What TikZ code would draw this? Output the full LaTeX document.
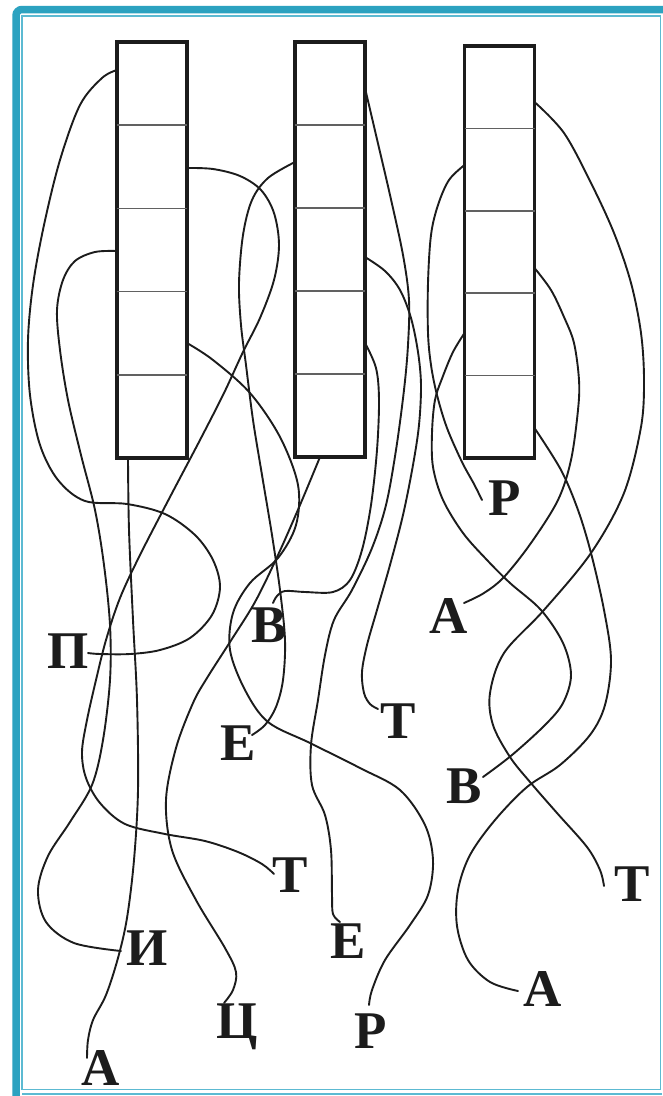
\documentclass[tikz,border=0pt]{standalone}
\usepackage{fontspec}
\setmainfont{Liberation Serif}
\usetikzlibrary{calc}
\definecolor{tealA}{RGB}{44,162,192}
\definecolor{tealB}{RGB}{92,186,210}
\definecolor{ink}{RGB}{28,28,28}
\begin{document}
\begin{tikzpicture}[x=1pt,y=-1pt,
  wire/.style={draw=ink,line width=1.9pt,line cap=round,line join=round},
  box/.style={draw=ink,line width=3.3pt,fill=white,inner sep=0pt,outer sep=0pt},
  cellline/.style={draw=black!62,line width=1.5pt},
  lbl/.style={font=\fontsize{53}{53}\selectfont\bfseries,inner sep=0pt,anchor=base,text=ink},
  sm/.style={smooth,tension=0.55}]
\useasboundingbox (0,0) rectangle (662,1096);
\fill[white] (0,0) rectangle (662,1096);
% frame
\draw[tealA,line width=7.5pt,rounded corners=6pt] (16,1110) -- (16,9.5) -- (680,9.5);
\draw[tealB,line width=1.2pt] (22,1089.5) -- (22,16) -- (660.5,16) -- (660.5,1089.5) -- cycle;
\draw[tealB,line width=1.2pt] (22,1094) -- (662,1094);

% boxes
\node[box,minimum width=70pt,minimum height=416pt] (b1) at (152,250) {};
\node[box,minimum width=70pt,minimum height=415pt] (b2) at (330,249.5) {};
\node[box,minimum width=70pt,minimum height=412pt] (b3) at (499.5,252) {};
\foreach \b in {b1,b2,b3}{
  \foreach \f in {0.2,0.4,0.6,0.8}{
    \draw[cellline] ($(\b.north west)!\f!(\b.south west)$) -- ($(\b.north east)!\f!(\b.south east)$);
  }
}

% labels
\node[lbl] (lP)  at (68,668)  {П};
\node[lbl] (lV1) at (269,642) {В};
\node[lbl] (lE1) at (238,760) {Е};
\node[lbl] (lT1) at (398,738) {Т};
\node[lbl] (lR1) at (505,515) {Р};
\node[lbl] (lA1) at (449,633) {А};
\node[lbl] (lV2) at (464,803) {В};
\node[lbl] (lT2) at (290,892) {Т};
\node[lbl] (lT3) at (632,901) {Т};
\node[lbl] (lI)  at (147,965) {И};
\node[lbl] (lE2) at (348,958) {Е};
\node[lbl] (lA2) at (543,1006) {А};
\node[lbl] (lC)  at (237,1038) {Ц};
\node[lbl] (lR2) at (371,1048) {Р};
\node[lbl] (lA3) at (101,1085) {А};

% ports on boxes
\coordinate (p1) at (b1.west |- 0,70);
\coordinate (p2) at (b1.west |- 0,251);
\coordinate (p3) at (128,458);
\coordinate (p4) at (b1.east |- 0,168);
\coordinate (p5) at (b1.east |- 0,343);
\coordinate (p6) at (b2.west |- 0,162);
\coordinate (p7) at (320,457);
\coordinate (p8) at (b2.east |- 0,88);
\coordinate (p9) at (b2.east |- 0,257);
\coordinate (p10) at (b2.east |- 0,343);
\coordinate (p11) at (b3.west |- 0,165);
\coordinate (p12) at (b3.west |- 0,333);
\coordinate (p13) at (b3.east |- 0,102);
\coordinate (p14) at (b3.east |- 0,268);
\coordinate (p15) at (b3.east |- 0,428);

% ends at labels
\coordinate (eP) at (88,653);
\coordinate (eI) at (121,951);
\coordinate (eA3) at (87,1058);
\coordinate (eT2) at (274,874);
\coordinate (eR2) at (369,1005);
\coordinate (eE1) at (252,735);
\coordinate (eC) at (224,1003);
\coordinate (eE2) at (340,922);
\coordinate (eT1) at (378,709);
\coordinate (eV1) at (273,603);
\coordinate (eR1) at (482,500);
\coordinate (eV2) at (483,777);
\coordinate (eT3) at (604,886);
\coordinate (eA1) at (464,603);
\coordinate (eA2) at (518,991);

% wires of box 1
\draw[wire] plot[sm] coordinates {(p1) (102,78) (80,105) (60,160) (44,225) (33,285) (28,340) (30,395) (40,445) (58,480) (85,501) (127,504) (165,514) (195,535) (213,560) (220,587) (212,615) (190,638) (160,650) (130,654) (100,654) (eP)};
\draw[wire] plot[sm] coordinates {(p2) (95,252) (75,261) (63,280) (57,310) (60,350) (68,400) (81,455) (95,510) (104,565) (110,625) (110,680) (103,740) (92,785) (70,822) (48,856) (38,890) (46,922) (74,943) (eI)};
\draw[wire] plot[sm] coordinates {(p3) (129,530) (133,620) (137,700) (138,790) (134,860) (127,918) (118,958) (106,995) (93,1020) (88,1040) (eA3)};
\draw[wire] plot[sm] coordinates {(p4) (213,169) (240,176) (261,190) (274,213) (279,245) (274,280) (260,318) (243,352) (224,393) (200,440) (170,497) (140,555) (120,598) (106,640) (96,680) (87,720) (82,752) (86,778) (100,803) (125,824) (165,834) (205,841) (238,852) (262,864) (eT2)};
\draw[wire] plot[sm] coordinates {(p5) (213,360) (250,393) (280,437) (298,485) (296,525) (278,558) (250,583) (233,613) (230,650) (245,690) (268,722) (310,743) (360,768) (400,790) (425,825) (433,860) (428,895) (410,925) (385,960) (372,990) (eR2)};
% wires of box 2
\draw[wire] plot[sm] coordinates {(p6) (268,178) (252,200) (243,235) (239,283) (241,325) (246,365) (253,420) (262,475) (272,535) (280,590) (285,640) (283,680) (276,707) (265,725) (eE1)};
\draw[wire] plot[sm] coordinates {(p7) (300,505) (278,555) (255,602) (230,642) (207,678) (193,703) (176,748) (166,800) (172,850) (196,900) (225,948) (236,972) (233,990) (eC)};
\draw[wire] plot[sm] coordinates {(p8) (376,135) (390,195) (403,255) (409,300) (408,345) (404,390) (396,450) (386,505) (372,548) (352,590) (334,620) (325,655) (318,700) (311,745) (312,785) (325,815) (331,850) (332,895) (333,914) (eE2)};
\draw[wire] plot[sm] coordinates {(p9) (385,271) (400,290) (411,318) (418,352) (421,385) (419,425) (413,465) (403,515) (390,565) (377,610) (367,645) (362,672) (364,693) (370,704) (eT1)};
\draw[wire] plot[sm] coordinates {(p10) (376,368) (379,400) (377,450) (371,505) (362,550) (350,580) (333,592) (305,592) (285,591) (277,596) (eV1)};
% wires of box 3
\draw[wire] plot[sm] coordinates {(p11) (449,180) (438,205) (431,235) (428,283) (428,333) (431,365) (437,395) (447,428) (462,462) (474,484) (eR1)};
\draw[wire] plot[sm] coordinates {(p12) (453,352) (443,376) (435,400) (432,433) (433,467) (443,500) (463,533) (487,560) (510,583) (541,610) (563,643) (571,675) (563,703) (545,725) (512,755) (eV2)};
\draw[wire] plot[sm] coordinates {(p13) (564,133) (591,183) (614,233) (631,283) (641,333) (644,380) (641,427) (624,493) (591,553) (544,610) (504,653) (490,693) (493,725) (510,757) (530,782) (557,813) (587,847) (600,870) (eT3)};
\draw[wire] plot[sm] coordinates {(p14) (551,290) (564,317) (574,343) (579,380) (578,410) (571,460) (558,500) (531,543) (504,577) (484,593) (eA1)};
\draw[wire] plot[sm] coordinates {(p15) (561,470) (578,510) (591,553) (604,610) (611,660) (605,705) (590,735) (560,765) (527,787) (495,820) (470,855) (458,890) (457,926) (468,960) (490,982) (eA2)};
\end{tikzpicture}
\end{document}
